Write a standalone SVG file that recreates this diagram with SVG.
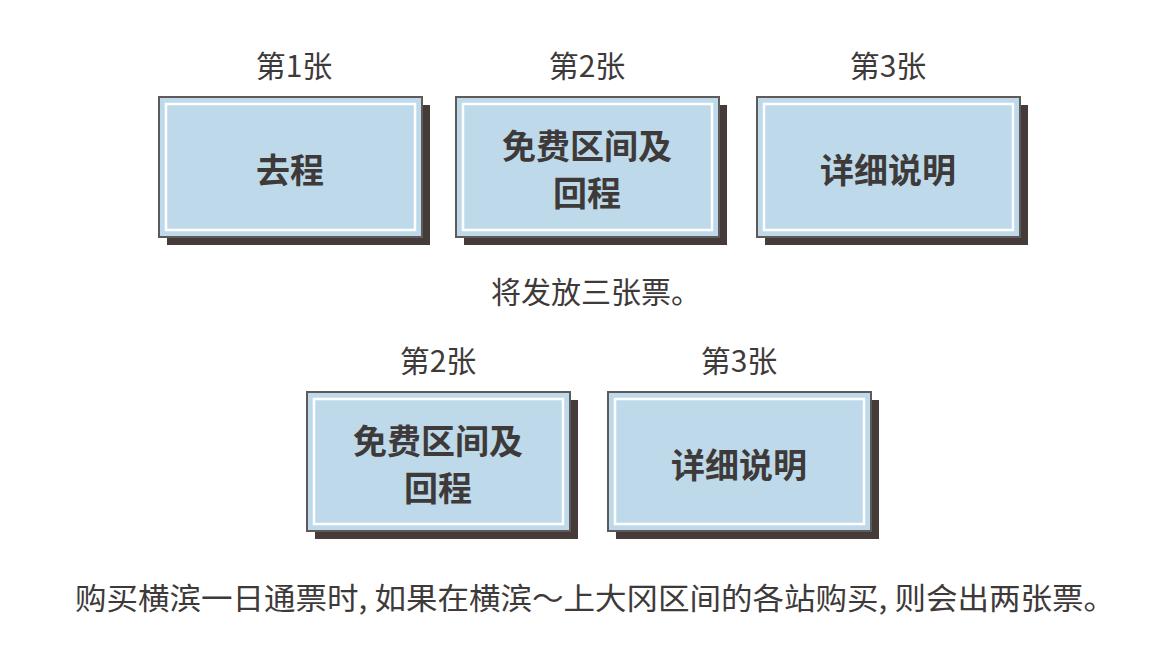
<svg xmlns="http://www.w3.org/2000/svg" width="1153" height="655" viewBox="0 0 1153 655">
<style>
text{font-family:"Noto Sans CJK SC","Noto Sans",sans-serif;fill:#3e3a39;text-anchor:middle}
.lab{font-size:30px}
.bt{font-size:34px;font-weight:bold}
.sh{fill:#453c39}
.bx{fill:#bed9ea;stroke:#5e5a59;stroke-width:2}
.in{fill:none;stroke:#fff;stroke-width:2.5}
</style>
<rect width="1153" height="655" fill="#fff"/>
<g id="n1"><text class="lab" x="294" y="77">第1张</text><rect class="sh" x="167" y="105" width="263" height="140"/><rect class="bx" x="159" y="97" width="263" height="140"/><rect class="in" x="166" y="104" width="249" height="126"/><text class="bt" x="290" y="183">去程</text></g>
<g id="n2"><text class="lab" x="587" y="77">第2张</text><rect class="sh" x="464" y="105" width="263" height="140"/><rect class="bx" x="456" y="97" width="263" height="140"/><rect class="in" x="463" y="104" width="249" height="126"/><text class="bt" x="587" y="159">免费区间及</text><text class="bt" x="587" y="206">回程</text></g>
<g id="n3"><text class="lab" x="888" y="77">第3张</text><rect class="sh" x="765" y="105" width="263" height="140"/><rect class="bx" x="757" y="97" width="263" height="140"/><rect class="in" x="764" y="104" width="249" height="126"/><text class="bt" x="888" y="183">详细说明</text></g>
<text class="lab" x="596" y="303">将发放三张票。</text>
<g id="n4"><text class="lab" x="438" y="372">第2张</text><rect class="sh" x="315" y="400" width="263" height="139"/><rect class="bx" x="307" y="392" width="263" height="139"/><rect class="in" x="314" y="399" width="249" height="125"/><text class="bt" x="438" y="454">免费区间及</text><text class="bt" x="438" y="501">回程</text></g>
<g id="n5"><text class="lab" x="739" y="372">第3张</text><rect class="sh" x="616" y="400" width="263" height="139"/><rect class="bx" x="608" y="392" width="263" height="139"/><rect class="in" x="615" y="399" width="249" height="125"/><text class="bt" x="739" y="478">详细说明</text></g>
<text class="lab" x="595" y="609" textLength="1040" lengthAdjust="spacingAndGlyphs">购买横滨一日通票时, 如果在横滨～上大冈区间的各站购买, 则会出两张票。</text>
<g id="connectors"/>
</svg>
